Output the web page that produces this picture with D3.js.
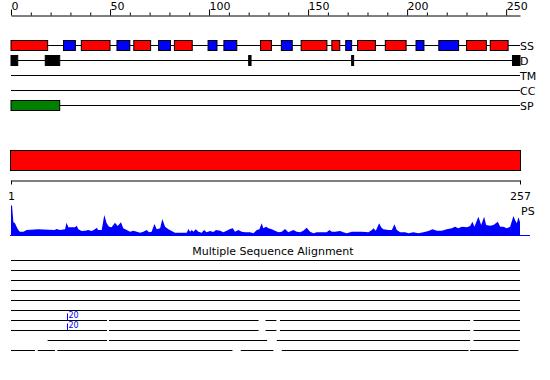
<!DOCTYPE html>
<html>
<head>
<meta charset="utf-8">
<script src="https://cdn.jsdelivr.net/npm/d3@7"></script>
<style>
  body { margin: 0; background: #fff; }
  svg { display: block; font-family: "DejaVu Sans", sans-serif; }
</style>
</head>
<body>
<script>
"use strict";

const seqLength = 257;

// secondary structure: H = helix (red), E = strand (blue), positions in residues
const ssType  = ["H","E","H","E","H","E","H","E","E","H","E","H","H","E","H","H","E","E","H","H"];
const ssStart = [0, 26.5, 35.5, 53.5, 62, 74.5, 82.5, 99.5, 107.5, 126, 136.5, 146.5, 162, 169, 175, 189, 204.5, 216, 230, 242];
const ssEnd   = [18.5, 32.5, 50, 60, 70.5, 80.5, 91.5, 104, 114, 131.5, 142, 159.5, 166, 172, 184, 199.5, 208.5, 226, 240, 251];

// disorder, signal peptide
const disStart = [0, 17.3, 120, 172, 253.2];
const disEnd   = [3.4, 24.6, 121.2, 173, 257];
const spStart  = [0];
const spEnd    = [24.6];

const trackNames = ["SS", "D", "TM", "CC", "SP"];
const topTicks   = d3.range(0, 251, 10);

// PS profile (residue, score)
const psPos = [0, 0.5, 1.2, 2, 2.9, 3.7, 4.5, 6.2, 7.9, 13.8, 22, 23, 24.7, 27.3, 28, 29, 30.6, 32.3, 33.2, 34,
  35.7, 37.4, 39, 40.7, 42.4, 43.3, 44, 45.8, 47.1, 48.3, 49.5, 50.8, 52.5, 53.9, 55.5, 56.7, 58.4, 60.1, 61.8, 63.5,
  65.2, 66.8, 68.5, 69.7, 71, 72.4, 73.6, 75.3, 76.4, 77.8, 79.5, 81.1, 82.8, 85.4, 88.7, 89.6, 90.4, 91.3, 92.1, 93.3,
  94.6, 96.3, 97.5, 98.8, 100.5, 102.2, 103.5, 105.6, 107.2, 108.9, 110.6, 112, 113.1, 114.8, 116.5, 118.2, 120.7, 122.4, 124.1, 125.4,
  126.6, 127.4, 128.8, 130, 131.7, 133.3, 135, 136.7, 138.4, 140, 142.6, 144.3, 146, 147.6, 149.3, 151, 152.7, 154.4, 159.4, 160.8,
  162, 163.6, 166.2, 167.8, 169.5, 172.1, 176.3, 177.1, 180.5, 182.2, 183, 184.2, 185.9, 186.9, 188, 190.6, 192.3, 193.6, 194.8, 196.5,
  199, 200.7, 203.2, 205.7, 208.2, 210.8, 212.8, 215, 217.5, 220, 222.6, 224.2, 225.9, 227.6, 230.2, 231.8, 233, 234, 236, 237.4,
  238.9, 239.9, 241.9, 243.6, 245.8, 247, 248.6, 250.4, 252, 253.7, 254.5, 255.4, 256.2, 257];
const psVal = [30, 31, 14, 12.7, 9, 6, 4.3, 4.3, 6, 6.7, 6, 7, 6, 6.7, 13.3, 8.7, 8.7, 8.7, 10.3, 6.7,
  5, 5.3, 6, 5, 6.7, 8.3, 6, 6, 21, 12.7, 9.3, 8.7, 13.3, 10, 13.7, 7.7, 6, 4.3, 5.3, 4.3,
  3.3, 4.3, 6, 3.7, 4.3, 12, 6.7, 7.7, 17, 9.3, 6.7, 5, 3.3, 3.3, 3.3, 7, 4.3, 6, 4.3, 6.7,
  4.3, 3.3, 6, 3.7, 5, 4, 6, 5.3, 3.7, 5.3, 7, 7.7, 4.3, 6, 4.3, 3.7, 3.7, 2.7, 6, 6.7,
  12.7, 7.7, 9.3, 7.7, 6.7, 5.3, 3.7, 4.3, 7, 3.7, 6, 4.3, 3.7, 5.3, 8.3, 4.3, 2.7, 3.7, 3.7, 6,
  4.3, 4.3, 5, 3.7, 2.7, 4.3, 4.3, 4.3, 3.7, 6, 7.7, 5.3, 12.7, 8.7, 6.7, 6, 6, 11.7, 6, 3.7,
  3.7, 2.7, 3.7, 2.7, 3.7, 5, 6.7, 5.3, 5.3, 6.7, 7.7, 9.3, 7.7, 9.3, 8.7, 10, 14.3, 9.3, 19.3, 11,
  19.3, 11, 10.3, 11, 14.3, 9.3, 9.3, 7.7, 9.3, 20, 16, 12.7, 18.7, 14];

// multiple sequence alignment: segments per row, in residues
const msaRows = [
  [[0, 257]],
  [[0, 257]],
  [[0, 257]],
  [[0, 257]],
  [[0, 257]],
  [[0, 257]],
  [[0, 48.5], [49.5, 125], [128.5, 134], [135.8, 231.8], [233.5, 257]],
  [[0, 48.5], [49.5, 125], [128.5, 134], [135.8, 231.8], [233.5, 257]],
  [[18.5, 48.5], [49.5, 129.3], [134.2, 231.8], [233.5, 257]],
  [[0, 12.1], [13.5, 22.2], [23.4, 111.8], [116, 132.5], [136.7, 231], [231.8, 256.2]]
];
const msaMarkRow = [6, 7];
const msaMarkPos = [28.3, 28.3];
const msaMarkText = ["20", "20"];

const width = 550, height = 380;
const colors = { H: "#ff0000", E: "#0000ff" };

const svg = d3.select("body").append("svg")
  .attr("width", width)
  .attr("height", height);

const x = d3.scaleLinear().domain([0, seqLength]).range([11, 520]);

// top ruler
const topAxis = svg.append("g")
  .attr("transform", "translate(0,15.5)")
  .call(d3.axisTop(x)
    .tickValues(topTicks)
    .tickSize(3)
    .tickSizeOuter(0)
    .tickFormat(d => d % 50 === 0 ? d : ""));
topAxis.attr("font-family", null).attr("font-size", 11);
topAxis.selectAll(".tick line").attr("y2", d => d % 50 === 0 ? -6 : -3);
topAxis.selectAll(".tick text")
  .attr("text-anchor", "start")
  .attr("x", 0)
  .attr("y", -6)
  .attr("dy", 0)
  .attr("fill", "#000");

// feature tracks
const trackY = d3.scalePoint().domain(trackNames).range([45.5, 105.5]);

const tracks = svg.append("g");
tracks.selectAll("line")
  .data(trackNames)
  .enter().append("line")
  .attr("x1", x(0)).attr("x2", x(seqLength))
  .attr("y1", d => trackY(d)).attr("y2", d => trackY(d))
  .attr("stroke", "#000");

tracks.selectAll("text")
  .data(trackNames)
  .enter().append("text")
  .attr("x", 520)
  .attr("y", d => trackY(d) + 4)
  .attr("font-size", 11)
  .text(d => d);

function boxes(row, starts, ends, fill) {
  tracks.append("g").selectAll("rect")
    .data(starts)
    .enter().append("rect")
    .attr("x", (d) => x(d))
    .attr("width", (d, i) => x(ends[i]) - x(d))
    .attr("y", trackY(row) - 5)
    .attr("height", 10)
    .attr("fill", typeof fill === "function" ? fill : () => fill)
    .attr("stroke", "#000");
}

boxes("SS", ssStart, ssEnd, (d, i) => colors[ssType[i]]);
boxes("D", disStart, disEnd, "#000");
boxes("SP", spStart, spEnd, "#008000");

// full-length domain bar
svg.append("rect")
  .attr("x", x(0) - 0.5)
  .attr("y", 150.5)
  .attr("width", x(seqLength) - x(0) + 1)
  .attr("height", 20)
  .attr("fill", "#ff0000")
  .attr("stroke", "#000");

// residue axis 1..257
const resAxis = svg.append("g")
  .attr("transform", "translate(0,180.5)")
  .call(d3.axisBottom(x)
    .tickValues([0, seqLength])
    .tickSize(4)
    .tickSizeOuter(0)
    .tickFormat(d => d === 0 ? "1" : String(seqLength)));
resAxis.attr("font-family", null).attr("font-size", 11);
resAxis.selectAll(".tick text").attr("y", 19.5).attr("dy", 0).attr("fill", "#000");

// PS profile
const y = d3.scaleLinear().domain([0, 32]).range([236, 204]);
const area = d3.area()
  .x((d, i) => x(psPos[i]))
  .y0(236)
  .y1(d => y(d));

svg.append("path")
  .datum(psVal)
  .attr("d", area)
  .attr("fill", "#0000ff");

svg.append("line")
  .attr("x1", 10).attr("x2", 530)
  .attr("y1", 235.5).attr("y2", 235.5)
  .attr("stroke", "#0000ff");

svg.append("text")
  .attr("x", 521)
  .attr("y", 215)
  .attr("font-size", 11)
  .text("PS");

// multiple sequence alignment
svg.append("text")
  .attr("x", 273)
  .attr("y", 255)
  .attr("text-anchor", "middle")
  .attr("font-size", 11)
  .text("Multiple Sequence Alignment");

const rowY = d3.scaleLinear().domain([0, 1]).range([260.5, 270.5]);

const msa = svg.append("g");
msaRows.forEach((segs, r) => {
  msa.append("g").selectAll("line")
    .data(segs)
    .enter().append("line")
    .attr("x1", d => x(d[0]))
    .attr("x2", d => x(d[1]))
    .attr("y1", rowY(r)).attr("y2", rowY(r))
    .attr("stroke", "#000");
});

msaMarkRow.forEach((r, i) => {
  const mx = Math.round(x(msaMarkPos[i])) + 0.5;
  msa.append("line")
    .attr("x1", mx).attr("x2", mx)
    .attr("y1", rowY(r) - 7).attr("y2", rowY(r))
    .attr("stroke", "#0000ff");
  msa.append("text")
    .attr("x", mx + 1)
    .attr("y", rowY(r) - 2.5)
    .attr("font-size", 8)
    .attr("fill", "#0000ff")
    .text(msaMarkText[i]);
});
</script>
</body>
</html>
